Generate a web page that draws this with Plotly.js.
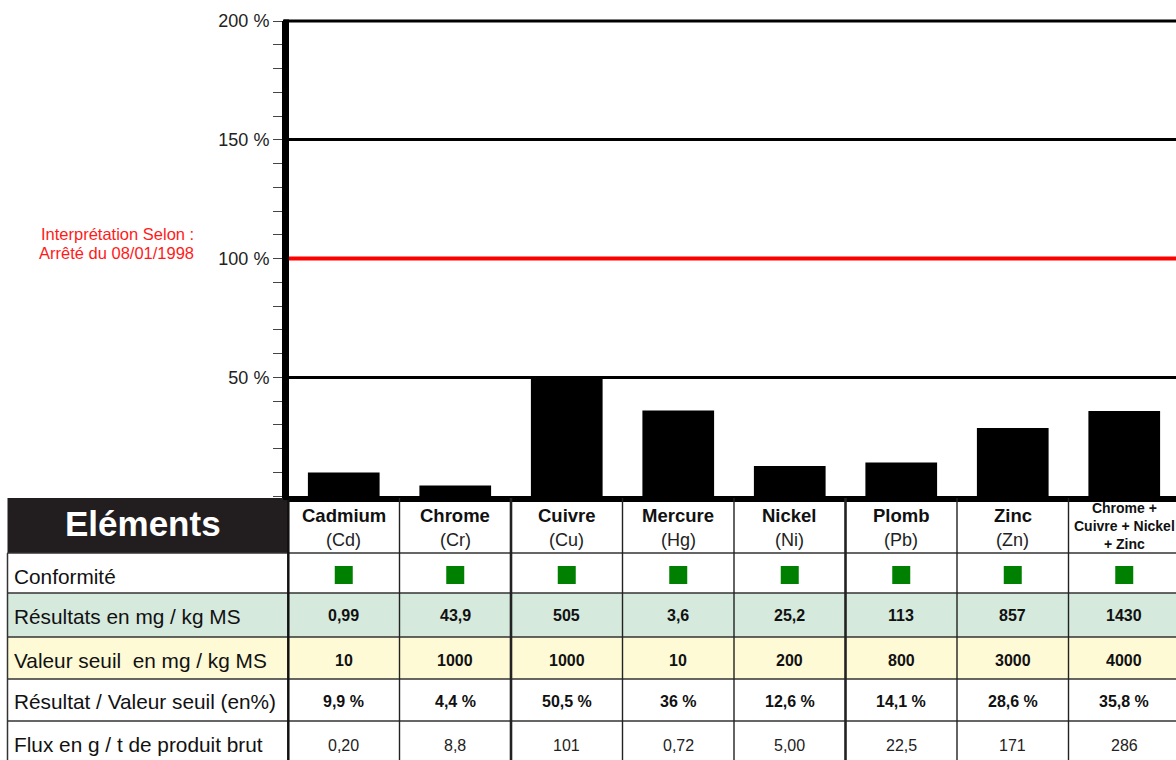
<!DOCTYPE html>
<html><head><meta charset="utf-8">
<script src="https://cdn.plot.ly/plotly-3.0.1.min.js"></script>
<style>html,body{margin:0;padding:0;background:#fff;overflow:hidden}#chart{width:1176px;height:760px}</style>
</head><body><div id="chart"></div>
<script>
// ---- data ----
const elements = ['Cadmium','Chrome','Cuivre','Mercure','Nickel','Plomb','Zinc','Chrome + Cuivre + Nickel + Zinc'];
const headerLines = ['Cadmium','Chrome','Cuivre','Mercure','Nickel','Plomb','Zinc','Chrome +<br>Cuivre + Nickel<br>+ Zinc'];
const symbols = ['(Cd)','(Cr)','(Cu)','(Hg)','(Ni)','(Pb)','(Zn)',''];
const conforme = [true,true,true,true,true,true,true,true];
const resultats = ['0,99','43,9','505','3,6','25,2','113','857','1430'];
const seuils = ['10','1000','1000','10','200','800','3000','4000'];
const ratioPct = [9.9,4.4,50.5,36,12.6,14.1,28.6,35.8];
const flux = ['0,20','8,8','101','0,72','5,00','22,5','171','286'];
const rowLabels = ['Conformité','Résultats en mg / kg MS','Valeur seuil  en mg / kg MS','Résultat / Valeur seuil (en%)','Flux en g / t de produit brut'];
const yTickVals = [50,100,150,200];
const yTickText = ['50 %','100 %','150 %','200 %'];
const yMax = 200;
const thresholdPct = 100;
const noteLines = ['Interprétation Selon :','Arrêté du 08/01/1998'];
const headTitle = 'Eléments';

// ---- layout helpers (pixels -> paper) ----
const T = 21, B = 496, L = 288, W = 1176, H = 760;
const py = Y => (B - Y) / (B - T);
const pxp = X => (X - L) / (W - L);
const FONT = 'Liberation Sans, Arial, sans-serif';
const pctText = ratioPct.map(v => String(v).replace('.', ',') + ' %');

const shapes = [];
const ann = [];

// row fills
shapes.push({type:'rect', xref:'paper', yref:'paper', x0:pxp(7.5), x1:1, y0:py(593), y1:py(637), fillcolor:'#d5e9dd', line:{width:0}, layer:'below'});
shapes.push({type:'rect', xref:'paper', yref:'paper', x0:pxp(7.5), x1:1, y0:py(637), y1:py(679), fillcolor:'#fefad6', line:{width:0}, layer:'below'});
// black header cell
shapes.push({type:'rect', xref:'paper', yref:'paper', x0:pxp(7.5), x1:pxp(289), y0:py(498), y1:py(553), fillcolor:'#221e1f', line:{width:0}});
// horizontal row lines
[553, 593, 637, 679, 721].forEach(Y => {
  shapes.push({type:'line', xref:'paper', yref:'paper', x0:pxp(7.5), x1:1, y0:py(Y), y1:py(Y), line:{color:'#333', width:1.5}});
});
// left border
shapes.push({type:'line', xref:'paper', yref:'paper', x0:pxp(7.5), x1:pxp(7.5), y0:py(553), y1:py(770), line:{color:'#333', width:1.5}});
// first column separator (at axis start)
shapes.push({type:'line', xref:'paper', yref:'paper', x0:pxp(288.3), x1:pxp(288.3), y0:py(498), y1:py(770), line:{color:'#111', width:2.5}});
// column separators between categories
const sepWidths = [1.4, 2.6, 1.4, 1.4, 2.6, 1.4, 1.4];
for (let i = 0; i < elements.length - 1; i++) {
  shapes.push({type:'line', xref:'x', yref:'paper', x0:i + 0.5, x1:i + 0.5, y0:py(498), y1:py(770), line:{color:'#222', width:sepWidths[i]}});
}
// conformity squares
conforme.forEach((ok, i) => {
  shapes.push({type:'rect', xref:'x', yref:'paper', xsizemode:'pixel', ysizemode:'pixel',
    xanchor:i, x0:-9, x1:9, yanchor:py(575), y0:-9, y1:9,
    fillcolor: ok ? '#008000' : '#e00000', line:{width:0}});
});
// top gridline (range edge), threshold line, thick value axis line
shapes.push({type:'line', xref:'paper', yref:'paper', x0:pxp(284), x1:1, y0:1, y1:1, line:{color:'#000', width:3}});
shapes.push({type:'line', xref:'paper', yref:'y', x0:0, x1:1, y0:thresholdPct, y1:thresholdPct, line:{color:'#ff0000', width:4}});
shapes.push({type:'line', xref:'paper', yref:'paper', x0:pxp(286), x1:pxp(286), y0:py(500), y1:py(19.5), line:{color:'#000', width:6}});

// annotations
const A = (o) => Object.assign({showarrow:false, xanchor:'center', yanchor:'middle'}, o);
ann.push(A({xref:'paper', yref:'paper', x:pxp(142.5), y:py(523.5), text:headTitle, font:{family:FONT, size:35, color:'#ffffff', weight:'bold'}}));
noteLines.forEach((t, k) => ann.push(A({xref:'paper', yref:'paper', x:pxp(196), xanchor:'right', y:py(234 + 19 * k), text:t, font:{family:FONT, size:16.5, color:'#ff1a1a'}})));

elements.forEach((e, i) => {
  if (symbols[i]) {
    ann.push(A({xref:'x', yref:'paper', x:i, y:py(515), text:headerLines[i], font:{family:FONT, size:18.5, color:'#111', weight:'bold'}}));
    ann.push(A({xref:'x', yref:'paper', x:i, y:py(539.5), text:symbols[i], font:{family:FONT, size:18, color:'#222'}}));
  } else {
    ann.push(A({xref:'x', yref:'paper', x:i, y:py(526), text:headerLines[i], font:{family:FONT, size:14, color:'#111', weight:'bold'}}));
  }
  ann.push(A({xref:'x', yref:'paper', x:i, y:py(615.5), text:resultats[i], font:{family:FONT, size:16, color:'#111', weight:'bold'}}));
  ann.push(A({xref:'x', yref:'paper', x:i, y:py(660.5), text:seuils[i], font:{family:FONT, size:16, color:'#111', weight:'bold'}}));
  ann.push(A({xref:'x', yref:'paper', x:i, y:py(701.5), text:pctText[i], font:{family:FONT, size:16, color:'#111', weight:'bold'}}));
  ann.push(A({xref:'x', yref:'paper', x:i, y:py(745), text:flux[i], font:{family:FONT, size:16, color:'#222'}}));
});
const labelY = [576, 616, 660, 701, 744];
rowLabels.forEach((t, k) => ann.push(A({xref:'paper', yref:'paper', x:pxp(11.5), xanchor:'left', y:py(labelY[k]), text:t, font:{family:FONT, size:20.8, color:'#111'}})));

const trace = {
  type:'bar', x:elements, y:ratioPct, width:0.643,
  marker:{color:'#000000', line:{width:0}}, hoverinfo:'skip'
};

const layout = {
  width:W, height:H,
  margin:{l:L, r:0, t:T, b:H - B, pad:0},
  paper_bgcolor:'#ffffff', plot_bgcolor:'#ffffff',
  showlegend:false,
  font:{family:FONT},
  xaxis:{type:'category', range:[-0.5, -0.5 + (W - L) / 111.5], showticklabels:false, ticks:'',
    showgrid:false, zeroline:false, showline:true, linewidth:6, linecolor:'#000', fixedrange:true},
  yaxis:{range:[0,yMax], tickmode:'array', tickvals:yTickVals, ticktext:yTickText,
    ticks:'outside', ticklen:9, tickwidth:1, tickcolor:'#444',
    tickfont:{family:FONT, size:18, color:'#222'},
    showline:true, linewidth:6, linecolor:'#000',
    showgrid:true, gridcolor:'#000', gridwidth:3, zeroline:false, fixedrange:true,
    minor:{dtick:10, tick0:0, ticks:'outside', ticklen:9, tickwidth:1, tickcolor:'#444', showgrid:false}},
  shapes:shapes,
  annotations:ann
};

Plotly.newPlot('chart', [trace], layout, {staticPlot:true, displayModeBar:false});
</script>
</body></html>
